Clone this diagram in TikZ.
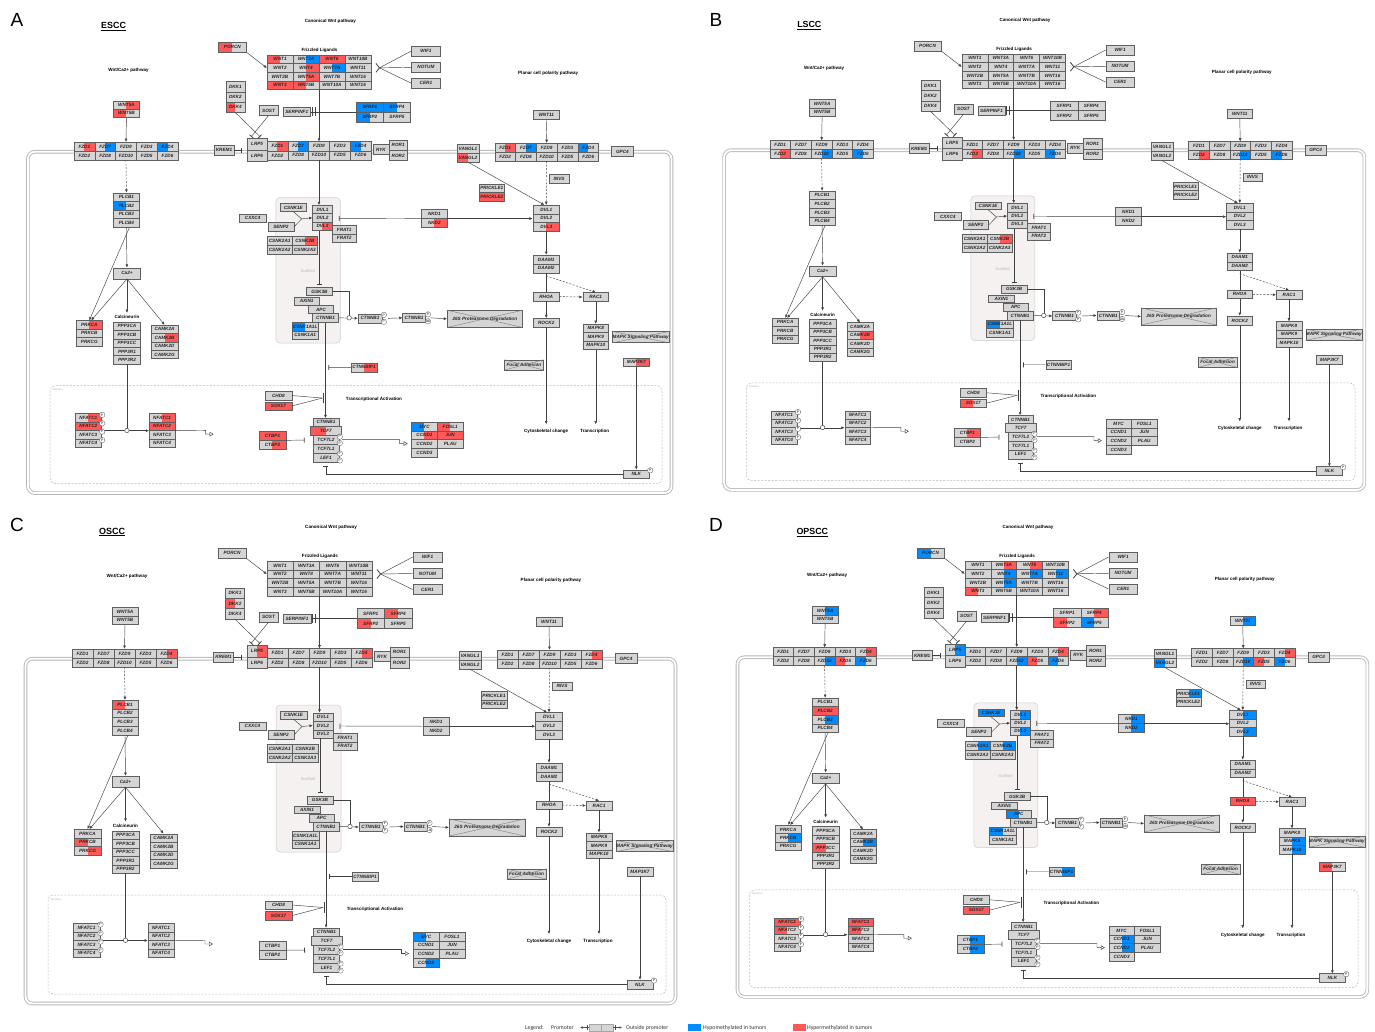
\documentclass[tikz,border=0pt]{standalone}
\usepackage{fontspec}
\setmainfont{Liberation Sans}
\setsansfont{Liberation Sans}
\newfontfamily\legfont{Carlito}
\usetikzlibrary{arrows.meta,calc}
\definecolor{hyper}{RGB}{255,88,88}
\definecolor{hypo}{RGB}{0,140,255}
\definecolor{gfill}{RGB}{213,213,213}
\definecolor{gline}{RGB}{95,95,95}
\definecolor{memb}{RGB}{185,185,185}
\definecolor{scaff}{RGB}{245,241,241}
\newcommand\gfont{\fontsize{4.7}{4.9}\selectfont\bfseries\itshape}
\newcommand\lfont{\fontsize{4.6}{5}\selectfont\bfseries}
\tikzset{
 gnode/.style={draw=gline, line width=0.45pt, inner sep=0pt, font=\gfont, text=black!85},
 arr/.style={draw=black!75, line width=0.45pt, -{Latex[length=3.2pt,width=2.8pt]}},
 darr/.style={arr, dash pattern=on 2pt off 1.5pt},
 inh/.style={draw=black!75, line width=0.45pt, -{Bar[width=5pt,line width=0.8pt]}},
 ln/.style={draw=black!75, line width=0.45pt},
 tarr/.style={draw=black!75, line width=0.45pt, -{Triangle[open,length=4pt,width=4.5pt]}},
 pc/.style={circle, draw=gline, fill=white, line width=0.35pt, inner sep=0pt, minimum size=5.5pt, font=\fontsize{3.4}{3.4}\selectfont},
 catc/.style={circle, draw=black!75, fill=white, line width=0.45pt, inner sep=0pt, minimum size=4.5pt},
 lbl/.style={font=\lfont, inner sep=0pt},
 pw/.style={draw=gline, fill=gfill, line width=0.45pt, inner sep=0pt, font=\gfont, text=black!85},
 xl/.style={draw=black!55, line width=0.35pt},
 membl/.style={draw=memb, line width=0.9pt, double=white, double distance=1.8pt, rounded corners=7pt},
 nucl/.style={draw=gray!55, line width=0.5pt, rounded corners=5pt, dash pattern=on 2pt off 1.5pt},
 scafl/.style={draw=gray!40, fill=scaff, line width=0.5pt, rounded corners=4pt},
 legf/.style={font=\legfont\fontsize{5.8}{6}\selectfont, inner sep=0pt, text=black!80},
}
\newcommand\dohalf[2]{%
  \if#1L\fill[#2] ({\bx-\bw/2},{\by-\bh/2}) rectangle ({\bx},{\by+\bh/2});\fi
  \if#1R\fill[#2] ({\bx},{\by-\bh/2}) rectangle ({\bx+\bw/2},{\by+\bh/2});\fi
  \if#1F\fill[#2] ({\bx-\bw/2},{\by-\bh/2}) rectangle ({\bx+\bw/2},{\by+\bh/2});\fi}
\newcommand\setgc[4]{\expandafter\def\csname cs@#1@#2\endcsname{\dohalf#3{#4}}}
\newcommand\gbox[6]{%
  \def\bx{#3}\def\by{#4}\def\bw{#5}\def\bh{#6}%
  \fill[gfill] ({#3-#5/2},{#4-#6/2}) rectangle ({#3+#5/2},{#4+#6/2});
  \ifcsname cs@\curp @#2\endcsname\csname cs@\curp @#2\endcsname\fi
  \node[gnode, minimum width=#5pt, minimum height=#6pt] (#1) at (#3,#4) {#2};}
\newcommand\grow[4]{\foreach \xx/\nm/\lb in {#4}{\gbox{\nm}{\lb}{\xx}{#1}{#2}{#3}}}
\newcommand\gcol[4]{\foreach \yy/\nm/\lb in {#4}{\gbox{\nm}{\lb}{#1}{\yy}{#2}{#3}}}
\newcommand\pwbox[6]{\node[pw, minimum width=#4pt, minimum height=#5pt] (#1) at (#2,#3) {#6};
  \draw[xl] (#1.north west) -- (#1.south east) (#1.south west) -- (#1.north east);}
% ---------- colour data ----------
\setgc{A}{PORCN}{L}{hyper}\setgc{A}{WNT1}{L}{hyper}\setgc{A}{WNT3A}{R}{hypo}
\setgc{A}{WNT6}{F}{hyper}\setgc{A}{WNT4}{R}{hyper}\setgc{A}{WNT7A}{R}{hypo}
\setgc{A}{WNT5A}{R}{hyper}\setgc{A}{WNT3}{F}{hyper}\setgc{A}{WNT5B}{L}{hyper}
\setgc{A}{DKK4}{L}{hyper}\setgc{A}{SFRP1}{F}{hypo}\setgc{A}{SFRP4}{L}{hypo}
\setgc{A}{SFRP2}{L}{hypo}\setgc{A}{FZD1}{R}{hyper}\setgc{A}{FZD7}{R}{hypo}
\setgc{A}{FZD4}{L}{hypo}\setgc{A}{VANGL2}{L}{hyper}\setgc{A}{PRICKLE2}{F}{hyper}
\setgc{A}{NKD2}{R}{hyper}\setgc{A}{DVL3}{R}{hyper}\setgc{A}{PLCB2}{L}{hypo}
\setgc{A}{CSNK2B}{R}{hyper}\setgc{A}{PRKCA}{R}{hyper}\setgc{A}{CAMK2B}{R}{hyper}
\setgc{A}{NFATC1}{R}{hyper}\setgc{A}{NFATC2}{F}{hyper}\setgc{A}{CSNK1A1L}{L}{hypo}
\setgc{A}{CTNNBIP1}{R}{hyper}\setgc{A}{SOX17}{F}{hyper}\setgc{A}{TCF7}{L}{hyper}
\setgc{A}{CTBP1}{F}{hyper}\setgc{A}{CTBP2}{R}{hyper}\setgc{A}{MYC}{L}{hypo}
\setgc{A}{FOSL1}{L}{hyper}\setgc{A}{CCND1}{R}{hyper}\setgc{A}{JUN}{F}{hyper}
\setgc{A}{MAP3K7}{R}{hyper}
\setgc{B}{FZD2}{R}{hyper}\setgc{B}{FZD10}{R}{hypo}\setgc{B}{FZD6}{L}{hypo}
\setgc{B}{CSNK2B}{R}{hyper}\setgc{B}{CSNK1A1L}{L}{hypo}\setgc{B}{CAMK2B}{R}{hyper}
\setgc{B}{SOX17}{L}{hyper}\setgc{B}{CTBP1}{R}{hyper}
\setgc{C}{DKK2}{L}{hyper}\setgc{C}{LRP5}{R}{hyper}\setgc{C}{FZD4}{R}{hyper}
\setgc{C}{SFRP4}{L}{hyper}\setgc{C}{SFRP2}{L}{hyper}\setgc{C}{PLCB1}{L}{hyper}
\setgc{C}{PRKCB}{L}{hyper}\setgc{C}{PRKCG}{R}{hyper}\setgc{C}{SOX17}{F}{hyper}
\setgc{C}{MYC}{L}{hypo}\setgc{C}{CCND3}{R}{hypo}
\setgc{D}{PORCN}{L}{hypo}\setgc{D}{WNT3A}{R}{hyper}\setgc{D}{WNT6}{R}{hyper}
\setgc{D}{WNT4}{R}{hypo}\setgc{D}{WNT7A}{R}{hypo}\setgc{D}{WNT11}{R}{hypo}
\setgc{D}{WNT5A}{R}{hypo}\setgc{D}{WNT3}{L}{hyper}\setgc{D}{SFRP4}{R}{hyper}
\setgc{D}{SFRP2}{L}{hyper}\setgc{D}{SFRP5}{L}{hypo}\setgc{D}{FZD4}{R}{hyper}
\setgc{D}{FZD10}{R}{hypo}\setgc{D}{FZD5}{L}{hyper}\setgc{D}{FZD6}{L}{hypo}
\setgc{D}{LRP5}{R}{hypo}\setgc{D}{VANGL2}{L}{hypo}\setgc{D}{PRICKLE1}{R}{hypo}
\setgc{D}{PLCB2}{F}{hyper}\setgc{D}{PLCB3}{R}{hypo}\setgc{D}{CSNK1E}{F}{hypo}
\setgc{D}{DVL1}{R}{hypo}\setgc{D}{DVL3}{R}{hypo}\setgc{D}{CSNK2A1}{R}{hypo}
\setgc{D}{CSNK2B}{R}{hypo}\setgc{D}{NKD1}{R}{hypo}\setgc{D}{NKD2}{R}{hypo}
\setgc{D}{PRKCB}{R}{hypo}\setgc{D}{PPP3CC}{L}{hyper}\setgc{D}{CAMK2B}{R}{hypo}
\setgc{D}{APC}{L}{hypo}\setgc{D}{CSNK1A1L}{L}{hypo}\setgc{D}{CTNNBIP1}{R}{hypo}
\setgc{D}{SOX17}{F}{hyper}\setgc{D}{NFATC1}{F}{hyper}\setgc{D}{NFATC2}{L}{hyper}
\setgc{D}{CTBP1}{R}{hypo}\setgc{D}{CTBP2}{R}{hypo}\setgc{D}{CCND1}{R}{hypo}
\setgc{D}{CCND2}{R}{hypo}\setgc{D}{RHOA}{F}{hyper}\setgc{D}{MAPK9}{R}{hypo}
\setgc{D}{MAPK10}{R}{hypo}\setgc{D}{MAP3K7}{L}{hyper}
\def\membleft{25.5}
% ---------- one panel ----------
\newcommand\panel[1]{%
\draw[membl] (\membleft,658.7) rectangle (675.5,1003.5);
\draw[nucl] (48,895) rectangle (666,994);
\node[font=\fontsize{2.8}{3}\selectfont, text=gray!60, anchor=west, inner sep=0pt] (nuctxt) at (51,899) {Nucleus};
\draw[scafl] (276,705) rectangle (341,852);
\node[font=\fontsize{4}{4}\selectfont, text=gray!55, inner sep=0pt] (scaftxt) at (308,779) {Scaffold};
\node[font=\fontsize{9}{9}\selectfont\bfseries, inner sep=0pt] (ttl) at (112,532) {\underline{#1}};
\node[lbl] (l1) at (331,527) {Canonical Wnt pathway};
\node[lbl] (l2) at (127,576) {Wnt/Ca2+ pathway};
\node[lbl] (l3) at (320,556) {Frizzled Ligands};
\node[lbl] (l4) at (551,580) {Planar cell polarity pathway};
\node[lbl] (l5) at (375,909) {Transcriptional Activation};
\node[lbl] (l6) at (549,941) {Cytoskeletal change};
\node[lbl] (l7) at (598,941) {Transcription};
\node[lbl] (l8) at (125.5,826) {Calcineurin};
% ligands
\gbox{PORCN}{PORCN}{232}{553}{28}{10}
\grow{565.4}{26.25}{8.75}{280.1/wA1/WNT1,306.4/wA2/WNT3A,332.6/wA3/WNT6,358.9/wA4/WNT10B}
\grow{574.1}{26.25}{8.75}{280.1/wB1/WNT2,306.4/wB2/WNT4,332.6/wB3/WNT7A,358.9/wB4/WNT11}
\grow{582.9}{26.25}{8.75}{280.1/wC1/WNT2B,306.4/wC2/WNT5A,332.6/wC3/WNT7B,358.9/wC4/WNT16}
\grow{591.6}{26.25}{8.75}{280.1/wD1/WNT3,306.4/wD2/WNT5B,332.6/wD3/WNT10A,358.9/wD4/WNT16}
\draw[gline, line width=0.7pt] (267,561) rectangle (372,596);
\gcol{427.5}{29}{10}{557/WIF1/WIF1,573.5/NOTUM/NOTUM,589.5/CER1/CER1}
\gcol{235}{19}{10.3}{593/DKK1/DKK1,603.4/DKK2/DKK2,613.8/DKK4/DKK4}
\gbox{SOST}{SOST}{268.5}{617}{19}{10}
\gbox{SERPINF1}{SERPINF1}{297}{618.5}{28}{9}
\grow{613.5}{27.5}{10}{370.75/sA1/SFRP1,398.25/sA2/SFRP4}
\grow{623.5}{27.5}{10}{370.75/sB1/SFRP2,398.25/sB2/SFRP5}
\gcol{125}{26}{8.5}{611.5/W5Al/WNT5A,620/W5Bl/WNT5B}
\gbox{W11r}{WNT11}{549}{621.5}{26}{9}
% membrane receptors
\grow{653.5}{21}{9}{82.5/fLa1/FZD1,103.5/fLa2/FZD7,124.5/fLa3/FZD9,145.5/fLa4/FZD3,166.5/fLa5/FZD4}
\grow{662.5}{21}{9}{82.5/fLb1/FZD2,103.5/fLb2/FZD8,124.5/fLb3/FZD10,145.5/fLb4/FZD5,166.5/fLb5/FZD6}
\grow{653.2}{21}{9.2}{277.5/fCa1/FZD1,298.5/fCa2/FZD7,319.5/fCa3/FZD9,340.5/fCa4/FZD3,361.5/fCa5/FZD4}
\grow{662.4}{21}{9.2}{277.5/fCb1/FZD2,298.5/fCb2/FZD8,319.5/fCb3/FZD10,340.5/fCb4/FZD5,361.5/fCb5/FZD6}
\grow{654.5}{21}{9}{507.5/fRa1/FZD1,528.5/fRa2/FZD7,549.5/fRa3/FZD9,570.5/fRa4/FZD3,591.5/fRa5/FZD4}
\grow{663.5}{21}{9}{507.5/fRb1/FZD2,528.5/fRb2/FZD8,549.5/fRb3/FZD10,570.5/fRb4/FZD5,591.5/fRb5/FZD6}
\gcol{257}{20}{11.5}{651.2/LRP5/LRP5,662.7/LRP6/LRP6}
\gbox{KREM1}{KREM1}{223.5}{657}{20}{10}
\gbox{RYK}{RYK}{382}{656.5}{16}{10}
\gcol{399.5}{19}{10.5}{652/ROR1/ROR1,662.5/ROR2/ROR2}
\gcol{470}{22}{9}{655.5/VANGL1/VANGL1,664.5/VANGL2/VANGL2}
\gbox{GPC4}{GPC4}{626}{658.5}{22}{10}
% planar cell polarity
\gbox{INVS}{INVS}{562}{686}{20}{8.5}
\gcol{494}{26}{8.5}{695.5/PRICKLE1/PRICKLE1,704/PRICKLE2/PRICKLE2}
\gcol{436}{26}{9}{721.5/NKD1/NKD1,730.5/NKD2/NKD2}
\gcol{549}{27}{8.7}{717/DVL1r/DVL1,725.7/DVL2r/DVL2,734.4/DVL3r/DVL3}
\gcol{549}{26}{9}{767.5/DAAM1/DAAM1,776.5/DAAM2/DAAM2}
\gbox{RHOA}{RHOA}{549}{805}{26}{8.5}
\gbox{RAC1}{RAC1}{599}{805.5}{26}{9}
\gbox{ROCK2}{ROCK2}{549}{831.5}{26}{9}
\gcol{599}{26}{8.5}{837/MAPK8/MAPK8,845.5/MAPK9/MAPK9,854/MAPK10/MAPK10}
\pwbox{mapkpw}{644.5}{846}{55}{11}{MAPK Signaling Pathway}
\pwbox{focal}{526.5}{874}{39}{10}{Focal Adhesion}
\gbox{MAP3K7}{MAP3K7}{640}{871.5}{26}{8.5}
\gbox{NLK}{NLK}{640}{984.5}{26}{9}
\node[pc] (pNLK) at (654,980.5) {P};
% canonical core
\gcol{323}{20}{8.5}{717/DVL1c/DVL1,725.5/DVL2c/DVL2,734/DVL3c/DVL3}
\gbox{CSNK1E}{CSNK1E}{293.5}{715}{27}{8}
\gbox{SENP2}{SENP2}{281}{734.5}{26}{9}
\gbox{CXXC4}{CXXC4}{252.5}{726}{27}{8.5}
\gcol{345}{24}{8.5}{737.5/FRAT1/FRAT1,746/FRAT2/FRAT2}
\grow{748.5}{25.5}{9}{279.75/CKa/CSNK2A1,305.25/CKb/CSNK2B}
\grow{757.5}{25.5}{9}{279.75/CKc/CSNK2A2,305.25/CKd/CSNK2A3}
\gbox{GSK3B}{GSK3B}{320}{800}{26}{8}
\gbox{AXIN1}{AXIN1}{307}{809.6}{26}{7.5}
\gbox{APC}{APC}{321.5}{818}{25}{8}
\gbox{CTNNB1c}{CTNNB1}{326}{826.5}{26}{9}
\gcol{305.5}{27}{8.5}{835.5/CK1AL/CSNK1A1L,844/CK1A/CSNK1A1}
\gbox{CTNNB1p}{CTNNB1}{371}{827}{24}{9}
\gbox{CTNNB1u}{CTNNB1}{415.5}{826.5}{23}{9}
\pwbox{prot}{487}{827.5}{76}{17}{26S Proteasome Degradation}
\gbox{CTNNBIP1}{CTNNBIP1}{365}{876.5}{26}{9}
\gcol{278.5}{27}{8.5}{905/CHD8/CHD8,915.5/SOX17/SOX17}
\gbox{CTNNB1t}{CTNNB1}{326.5}{932}{26}{8}
\gbox{TCF7}{TCF7}{326.5}{940.5}{31}{9}
\gcol{326.5}{26}{9}{949.5/TCF7L2/TCF7L2,958.5/TCF7L1/TCF7L1,967.5/LEF1/LEF1}
\gcol{272.5}{27}{9}{945.5/CTBP1/CTBP1,954.5/CTBP2/CTBP2}
\grow{936.4}{26}{8.75}{426/MYC/MYC,452/FOSL1/FOSL1}
\grow{945.1}{26}{8.75}{426/CCND1/CCND1,452/JUN/JUN}
\grow{953.9}{26}{8.75}{426/CCND2/CCND2,452/PLAU/PLAU}
\gbox{CCND3}{CCND3}{426}{962.6}{26}{8.75}
% calcium branch
\gcol{125}{26}{8.7}{704.5/PLCB1/PLCB1,713.2/PLCB2/PLCB2,721.9/PLCB3/PLCB3,730.6/PLCB4/PLCB4}
\gbox{Ca}{Ca2+}{125.5}{781.5}{27}{11}
\gcol{87.5}{27}{8.5}{833.5/PRKCA/PRKCA,842/PRKCB/PRKCB,850.5/PRKCG/PRKCG}
\gcol{125.5}{27}{8.5}{835/PPP3CA/PPP3CA,843.5/PPP3CB/PPP3CB,852/PPP3CC/PPP3CC,860.5/PPP3R1/PPP3R1,869/PPP3R2/PPP3R2}
\gcol{163.5}{27}{8.5}{838/CAMK2A/CAMK2A,846.5/CAMK2B/CAMK2B,855/CAMK2D/CAMK2D,863.5/CAMK2G/CAMK2G}
\gcol{86.5}{27}{8.5}{927.5/NFL1/NFATC1,936/NFL2/NFATC2,944.5/NFL3/NFATC3,953/NFL4/NFATC4}
\gcol{161}{26}{8.5}{927.5/NFR1/NFATC1,936/NFR2/NFATC2,944.5/NFR3/NFATC3,953/NFR4/NFATC4}
% ---- connectors ----
\draw[arr] (PORCN.south east) -- (wB1.west);
\coordinate (inhW) at (380.5,574);
\draw[ln] (WIF1.west) -- (inhW); \draw[ln] (NOTUM.west) -- (inhW); \draw[ln] (CER1.west) -- (inhW);
\draw[ln, line width=0.8pt] (377,569.5) -- (380.5,574) -- (377,578.5);
\coordinate (wtb) at (319.5,596);
\draw[arr] (wtb) -- (fCa3.north);
\coordinate (sfw) at (357,618.5);
\draw[ln] (sfw) -- (SERPINF1.east);
\draw[ln, line width=0.8pt] (312.5,614) -- (312.5,623) (315.5,614) -- (315.5,623);
\coordinate (lrpx1) at (260,643.5);
\coordinate (lrpx2) at (251,643.5);
\draw[inh] (DKK4.south) -- (lrpx1);
\draw[inh] (SOST.south) -- (lrpx2);
\coordinate (krb) at (242,657);
\draw[inh] (KREM1.east) -- (krb);
\draw[arr] (W5Bl.south) -- (fLa3.north);
\draw[darr] (fLb3.south) -- (PLCB1.north);
\draw[arr] (W11r.south) -- (fRa3.north);
\draw[darr] (fRb3.south) -- (DVL1r.north);
\draw[arr] (VANGL2.south) -- ($(DVL1r.north)+(-2,0)$);
\draw[arr] (fCb3.south) -- (fCb3.south |- DVL1c.north);
\coordinate (nkb) at (339.5,726);
\draw[inh] (NKD1.south west) -- (nkb);
\draw[arr] (NKD1.south east) -- (DVL2r.west |- NKD1.south east);
\coordinate (jn) at (302,726.5);
\draw[ln] (CSNK1E.south) -- (jn);
\draw[ln] (SENP2.east) -- (jn);
\draw[arr] (jn) -- (DVL2c.west);
\draw[inh, shorten >=2.5pt] (GSK3B.north |- DVL3c.south) -- (GSK3B.north);
\draw[arr] (CTNNB1c.east) -- (CTNNB1p.west);
\coordinate (catp) at (350,826.5);
\draw[ln] (GSK3B.east) -| ($(catp)+(0,-2.3)$);
\node[catc] (cat1) at (catp) {};
\draw[arr] ($(CTNNB1p.east)+(6,0)$) -- (CTNNB1u.west);
\draw[arr] ($(CTNNB1u.east)+(5,0)$) -- (prot.west);
\node[pc] (pp1) at (385,823.5) {P};
\node[pc] (pp2) at (385,830.5) {P};
\node[pc] (pu1) at (429.5,823) {P};
\node[pc] (pu2) at (429.5,830) {Ub};
\draw[arr] (CTNNB1c.south) -- (CTNNB1c.south |- CTNNB1t.north);
\draw[inh] (CTNNBIP1.west) -- (329,876.5);
\coordinate (chj) at (323,907.5);
\draw[ln] (CHD8.east) -- (chj); \draw[ln] (SOX17.east) -- (chj);
\draw[ln, line width=0.9pt] (324,902) -- (324,913);
\draw[inh] (CTBP1.south east) -- (305,950);
\draw[tarr] ($(TCF7L2.east)+(3,0)$) -- (401,949.5) -- (401,953.5) -- (409,953.5);
\node[pc] (pt1) at (340.5,946.5) {P};
\node[pc] (pt2) at (340.5,953) {P};
\node[pc] (pt3) at (340.5,963.5) {P};
\node[pc] (pt4) at (340.5,970.5) {P};
\draw[inh, shorten >=4pt] (NLK.west) -| (LEF1.south);
\draw[arr] (MAP3K7.south) -- (NLK.north);
\draw[arr] (DVL3r.south) -- (DAAM1.north);
\draw[ln] (DAAM2.south) -- (RHOA.north);
\coordinate (dj) at (549,784);
\draw[darr] (dj) -- (RAC1.north);
\draw[darr] (RHOA.east) -- (RAC1.west);
\draw[arr] (RHOA.south) -- (ROCK2.north);
\coordinate (cyt) at (549,934);
\draw[arr] (ROCK2.south) -- (cyt);
\draw[arr] (RAC1.south) -- (MAPK8.north);
\coordinate (trn) at (599,934);
\draw[arr] (MAPK10.south) -- (trn);
\draw[arr] (PLCB4.south) -- (Ca.north);
\draw[arr] ($(PLCB4.south)+(3,0)$) -- (PRKCA.north);
\draw[arr] (Ca.south) -- ($(PRKCA.north)+(2,0)$);
\coordinate (cnl) at (125.5,821.5);
\draw[arr] (Ca.south) -- (cnl);
\draw[arr] (Ca.south) -- (CAMK2A.north);
\coordinate (cat2p) at (125.5,940.25);
\draw[arr] (NFL2.south east) -- (NFR2.south west);
\draw[ln] (PPP3R2.south) -- ($(cat2p)+(0,-2.3)$);
\node[catc] (cat2) at (cat2p) {};
\node[pc] (pn1) at (100.5,924.5) {P};
\node[pc] (pn2) at (100.5,933) {P};
\node[pc] (pn3) at (100.5,941.5) {P};
\node[pc] (pn4) at (100.5,950) {P};
\draw[tarr] (NFR2.south east) -- (205,940.25) -- (205,944) -- (213,944);
}
\begin{document}
\begin{tikzpicture}[x=1pt,y=-1pt]
\useasboundingbox[fill=white] (0,0) rectangle (1375,1032);
\begin{scope}[shift={(2.7,-500.4)}, scale=0.99, transform shape, name prefix=A-]
\def\curp{A}\panel{ESCC}
\end{scope}
\begin{scope}[shift={(699,-498.6)}, scale=0.985, transform shape, name prefix=B-]
\def\curp{B}\panel{LSCC}
\end{scope}
\begin{scope}[name prefix=C-]
\def\curp{C}\panel{OSCC}
\end{scope}
\begin{scope}[shift={(702,8.4)}, scale=0.985, transform shape, name prefix=D-]
\def\curp{D}\def\membleft{36}\panel{OPSCC}
\end{scope}
\node[font=\fontsize{19}{19}\selectfont, inner sep=0pt] (pA) at (17,20) {A};
\node[font=\fontsize{19}{19}\selectfont, inner sep=0pt] (pB) at (716,20) {B};
\node[font=\fontsize{19}{19}\selectfont, inner sep=0pt] (pC) at (17,525) {C};
\node[font=\fontsize{19}{19}\selectfont, inner sep=0pt] (pD) at (716,525) {D};
% legend
\node[legf, anchor=west] (lg1) at (525,1028) {Legend:};
\node[legf, anchor=west] (lg2) at (551,1028) {Promoter};
\node[draw=gray!70, fill=gfill, minimum width=12pt, minimum height=7pt, inner sep=0pt] (lgb1) at (595,1027.5) {};
\node[draw=gray!70, fill=gfill, minimum width=12pt, minimum height=7pt, inner sep=0pt] (lgb2) at (607,1027.5) {};
\coordinate (lgl) at (580,1027.5);
\coordinate (lgr) at (622,1027.5);
\draw[black!70, line width=0.5pt, -{Latex[length=2.5pt,width=2.5pt]}] (lgb1.west) -- (lgl);
\draw[black!70, line width=0.5pt, -{Latex[length=2.5pt,width=2.5pt]}] (lgb2.east) -- (lgr);
\draw[black!70, line width=0.6pt] (587,1025) -- (587,1030) (615,1025) -- (615,1030);
\node[legf, anchor=west] (lg3) at (626,1028) {Outside promoter};
\node[fill=hypo, minimum width=13pt, minimum height=7.5pt, inner sep=0pt] (lgc1) at (694.5,1027.5) {};
\node[legf, anchor=west] (lg4) at (703,1028) {Hypomethylated in tumors};
\node[fill=hyper, minimum width=13pt, minimum height=7.5pt, inner sep=0pt] (lgc2) at (799,1027.5) {};
\node[legf, anchor=west] (lg5) at (807,1028) {Hypermethylated in tumors};
\end{tikzpicture}
\end{document}
